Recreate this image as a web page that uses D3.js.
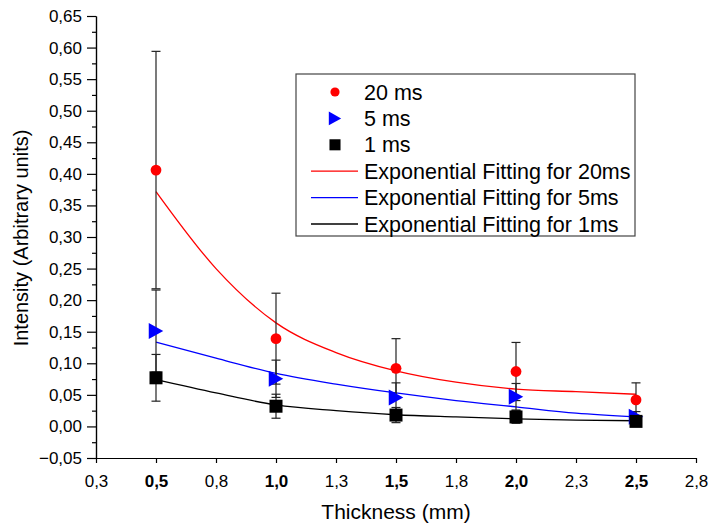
<!DOCTYPE html>
<html>
<head>
<meta charset="utf-8">
<script src="https://cdn.jsdelivr.net/npm/d3@7"></script>
<style>
  body { margin: 0; background: #fff; }
  svg { display: block; font-family: Arial, "Liberation Sans", sans-serif; }
  .tick text { font-size: 17px; fill: #000; }
  .axis path, .axis line { stroke: #000; stroke-width: 1.2; }
</style>
</head>
<body>
<div id="chart"></div>
<script>
// data
var thickness = [0.5, 1.0, 1.5, 2.0, 2.5];
var ms20 = [0.406, 0.139, 0.092, 0.087, 0.042];
var ms20Err = [0.188, 0.072, 0.047, 0.046, 0.027];
var ms5 = [0.151, 0.0755, 0.046, 0.047, 0.0155];
var ms5Err = [0.065, 0.0295, 0.023, 0.021, 0.008];
var ms1 = [0.077, 0.032, 0.018, 0.015, 0.008];
var ms1Err = [0.037, 0.019, 0.012, 0.010, 0.006];

// fitted curves
var fitX = [0.5, 0.75, 1.0, 1.25, 1.5, 1.75, 2.0, 2.25, 2.5];
var fit20 = [0.372, 0.250, 0.164, 0.117, 0.088, 0.070, 0.059, 0.055, 0.051];
var fit5 = [0.1335, 0.108, 0.084, 0.067, 0.053, 0.041, 0.031, 0.021, 0.015];
var fit1 = [0.074, 0.053, 0.034, 0.025, 0.0185, 0.015, 0.012, 0.010, 0.009];

var xTicks = [0.25, 0.5, 0.75, 1.0, 1.25, 1.5, 1.75, 2.0, 2.25, 2.5, 2.75];
var xTickLabels = ["0,3", "0,5", "0,8", "1,0", "1,3", "1,5", "1,8", "2,0", "2,3", "2,5", "2,8"];
var yTicks = [-0.05, 0, 0.05, 0.10, 0.15, 0.20, 0.25, 0.30, 0.35, 0.40, 0.45, 0.50, 0.55, 0.60, 0.65];
var yMinorTicks = [-0.025, 0.025, 0.075, 0.125, 0.175, 0.225, 0.275, 0.325, 0.375, 0.425, 0.475, 0.525, 0.575, 0.625];

var svgWidth = 710;
var svgHeight = 527;
var margin = { top: 16, right: 14, bottom: 69, left: 96 };
var width = svgWidth - margin.left - margin.right;
var height = svgHeight - margin.top - margin.bottom;

var svg = d3.select("#chart")
  .append("svg")
  .attr("width", svgWidth)
  .attr("height", svgHeight);

var chartGroup = svg.append("g")
  .attr("transform", `translate(${margin.left}, ${margin.top})`);

var xScale = d3.scaleLinear().domain([0.25, 2.75]).range([0, width]);
var yScale = d3.scaleLinear().domain([-0.05, 0.65]).range([height, 0]);

// axes
var bottomAxis = d3.axisBottom(xScale)
  .tickValues(xTicks)
  .tickFormat((d, i) => xTickLabels[i])
  .tickSize(5).tickSizeOuter(0).tickPadding(12);

var leftAxis = d3.axisLeft(yScale)
  .tickValues(yTicks)
  .tickFormat(d => d3.format(".2f")(d).replace(".", ","))
  .tickSize(9).tickSizeOuter(0).tickPadding(5);

var leftMinor = d3.axisLeft(yScale)
  .tickValues(yMinorTicks)
  .tickFormat("")
  .tickSize(4).tickSizeOuter(0);

chartGroup.append("g").attr("class", "axis").call(leftMinor);
chartGroup.append("g").attr("class", "axis").call(leftAxis);

var xg = chartGroup.append("g")
  .attr("class", "axis")
  .attr("transform", `translate(0, ${height})`)
  .call(bottomAxis);
xg.selectAll(".tick text")
  .attr("font-weight", d => thickness.indexOf(d) >= 0 ? "bold" : "normal");

// axis titles
chartGroup.append("text")
  .attr("transform", "rotate(-90)")
  .attr("x", -222)
  .attr("y", 28 - margin.left)
  .attr("text-anchor", "middle")
  .attr("font-size", 20)
  .text("Intensity (Arbitrary units)");

chartGroup.append("text")
  .attr("x", width / 2)
  .attr("y", height + 61)
  .attr("text-anchor", "middle")
  .attr("font-size", 21)
  .text("Thickness (mm)");

// fit curves
var line = d3.line()
  .x(d => xScale(d[0]))
  .y(d => yScale(d[1]))
  .curve(d3.curveMonotoneX);

var fits = [
  { vals: fit20, color: "#ff0000" },
  { vals: fit5, color: "#0000ff" },
  { vals: fit1, color: "#000000" }
];
fits.forEach(function(f) {
  chartGroup.append("path")
    .attr("d", line(fitX.map((x, i) => [x, f.vals[i]])))
    .attr("fill", "none")
    .attr("stroke", f.color)
    .attr("stroke-width", 1.3);
});

// points with error bars
var series = [
  { vals: ms20, err: ms20Err, color: "#ff0000", shape: "circle" },
  { vals: ms5, err: ms5Err, color: "#0000ff", shape: "triangle" },
  { vals: ms1, err: ms1Err, color: "#000000", shape: "square" }
];

function drawMarker(g, shape, color, cx, cy, s) {
  if (shape == "circle") {
    g.append("circle").attr("cx", cx).attr("cy", cy).attr("r", 5.4 * s).attr("fill", color);
  } else if (shape == "triangle") {
    var w = 14.5 * s, h = 16 * s;
    g.append("path")
      .attr("d", `M${cx - w / 2},${cy - h / 2}L${cx + w / 2},${cy}L${cx - w / 2},${cy + h / 2}Z`)
      .attr("fill", color);
  } else {
    var a = 13 * s;
    g.append("rect").attr("x", cx - a / 2).attr("y", cy - a / 2)
      .attr("width", a).attr("height", a).attr("fill", color);
  }
}

series.forEach(function(s) {
  var g = chartGroup.append("g");
  thickness.forEach(function(x, i) {
    var cx = xScale(x);
    var top = yScale(s.vals[i] + s.err[i]);
    var bot = yScale(s.vals[i] - s.err[i]);
    g.append("line").attr("x1", cx).attr("x2", cx).attr("y1", top).attr("y2", bot)
      .attr("stroke", "#222").attr("stroke-width", 1.2);
    [top, bot].forEach(function(yy) {
      g.append("line").attr("x1", cx - 4.5).attr("x2", cx + 4.5).attr("y1", yy).attr("y2", yy)
        .attr("stroke", "#222").attr("stroke-width", 1.2);
    });
  });
  thickness.forEach(function(x, i) {
    drawMarker(g, s.shape, s.color, xScale(x), yScale(s.vals[i]), 1);
  });
});

// legend
var legendItems = [
  { label: "20 ms", color: "#ff0000", shape: "circle" },
  { label: "5 ms", color: "#0000ff", shape: "triangle" },
  { label: "1 ms", color: "#000000", shape: "square" },
  { label: "Exponential Fitting for 20ms", color: "#ff0000", shape: "line" },
  { label: "Exponential Fitting for 5ms", color: "#0000ff", shape: "line" },
  { label: "Exponential Fitting for 1ms", color: "#000000", shape: "line" }
];

var legend = svg.append("g").attr("transform", "translate(296, 74)");
legend.append("rect")
  .attr("width", 339).attr("height", 162)
  .attr("fill", "#fff").attr("stroke", "#444").attr("stroke-width", 1.2);

legendItems.forEach(function(d, i) {
  var cy = 18 + i * 26.4;
  if (d.shape == "line") {
    legend.append("line").attr("x1", 15).attr("x2", 62).attr("y1", cy).attr("y2", cy)
      .attr("stroke", d.color).attr("stroke-width", 1.3);
  } else {
    drawMarker(legend, d.shape, d.color, 39, cy, 0.85);
  }
  legend.append("text")
    .attr("x", 68).attr("y", cy).attr("dy", "0.35em")
    .attr("font-size", 21.5)
    .text(d.label);
});
</script>
</body>
</html>
